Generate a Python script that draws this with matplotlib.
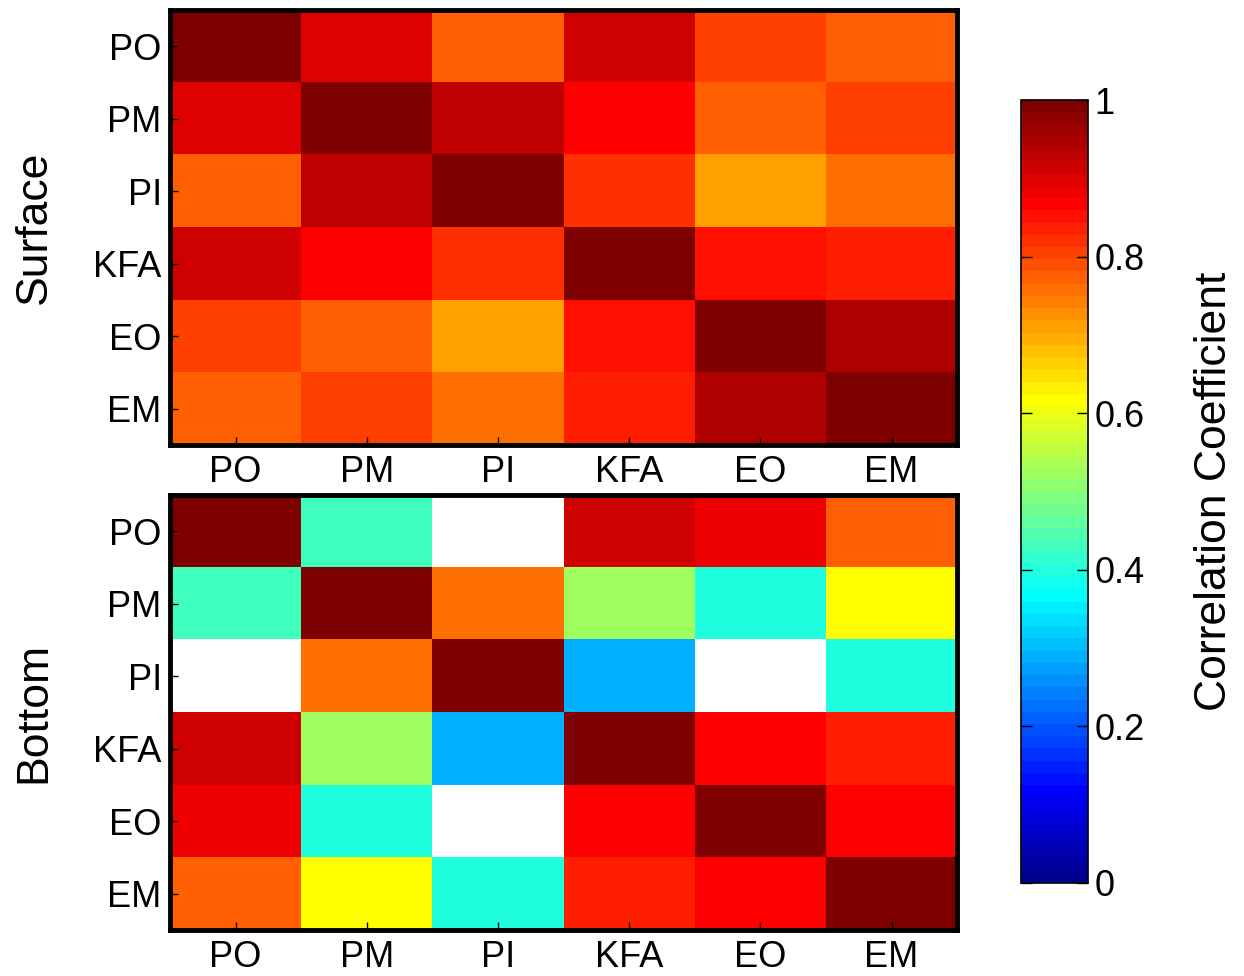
import numpy as np
import matplotlib
matplotlib.use("Agg")
import matplotlib.pyplot as plt
from matplotlib.colors import ListedColormap
from matplotlib.ticker import FuncFormatter

plt.rcParams["font.family"] = ["Liberation Sans", "DejaVu Sans"]

labels = ["PO", "PM", "PI", "KFA", "EO", "EM"]
nan = np.nan

surface = [
    [1.00, 0.90, 0.77, 0.91, 0.80, 0.77],
    [0.90, 1.00, 0.93, 0.87, 0.77, 0.80],
    [0.77, 0.93, 1.00, 0.82, 0.71, 0.76],
    [0.91, 0.87, 0.82, 1.00, 0.85, 0.84],
    [0.80, 0.77, 0.71, 0.85, 1.00, 0.945],
    [0.77, 0.80, 0.76, 0.84, 0.945, 1.00],
]

bottom = [
    [1.00, 0.43, nan, 0.91, 0.88, 0.77],
    [0.43, 1.00, 0.76, 0.52, 0.40, 0.62],
    [nan, 0.76, 1.00, 0.285, nan, 0.40],
    [0.91, 0.52, 0.285, 1.00, 0.87, 0.84],
    [0.88, 0.40, nan, 0.87, 1.00, 0.87],
    [0.77, 0.62, 0.40, 0.84, 0.87, 1.00],
]

panel_names = ["Surface", "Bottom"]
cbar_ticks = [0, 0.2, 0.4, 0.6, 0.8, 1]


def matlab_jet(n=64):
    # same construction as MATLAB's jet(n)
    m = n // 4
    u = np.r_[np.arange(1, m + 1) / m, np.ones(m - 1), np.arange(m, 0, -1) / m]
    g = m // 2 + np.arange(1, len(u) + 1)
    r = g + m
    b = g - m
    rgb = np.zeros((n, 3))
    for ch, idx in enumerate([r, g, b]):
        ok = (idx >= 1) & (idx <= n)
        rgb[idx[ok] - 1, ch] = u[ok]
    return ListedColormap(rgb)


cmap = matlab_jet(64)
cmap.set_bad("white")

fig = plt.figure(figsize=(12.44, 9.76), dpi=100)
ax_top = fig.add_axes([0.1367, 0.544, 0.6327, 0.4457])
ax_bot = fig.add_axes([0.1367, 0.0471, 0.6327, 0.4457])
cax = fig.add_axes([0.8205, 0.0953, 0.0539, 0.802])

for ax, data, name in zip([ax_top, ax_bot], [surface, bottom], panel_names):
    arr = np.ma.masked_invalid(np.array(data, dtype=float))
    im = ax.imshow(arr, cmap=cmap, vmin=0, vmax=1, aspect="auto",
                   interpolation="nearest")
    ax.set_xticks(range(len(labels)))
    ax.set_yticks(range(len(labels)))
    ax.set_xticklabels(labels, fontsize=26)
    ax.set_yticklabels(labels, fontsize=26)
    ax.tick_params(axis="x", direction="in", length=6, width=1, pad=7)
    ax.tick_params(axis="y", direction="in", length=6, width=1, pad=6)
    for s in ax.spines.values():
        s.set_linewidth(3.5)
    ax.set_ylabel(name, fontsize=32, labelpad=28)

cb = fig.colorbar(im, cax=cax, ticks=cbar_ticks)
cb.ax.yaxis.set_major_formatter(FuncFormatter(lambda v, p: "%g" % v))
cb.ax.tick_params(direction="in", length=8, width=1, labelsize=26,
                  left=True, right=True, pad=5)
cb.outline.set_linewidth(1.2)
cb.set_label("Correlation Coefficient", fontsize=32, labelpad=35)

fig.savefig("out.png", dpi=100)
